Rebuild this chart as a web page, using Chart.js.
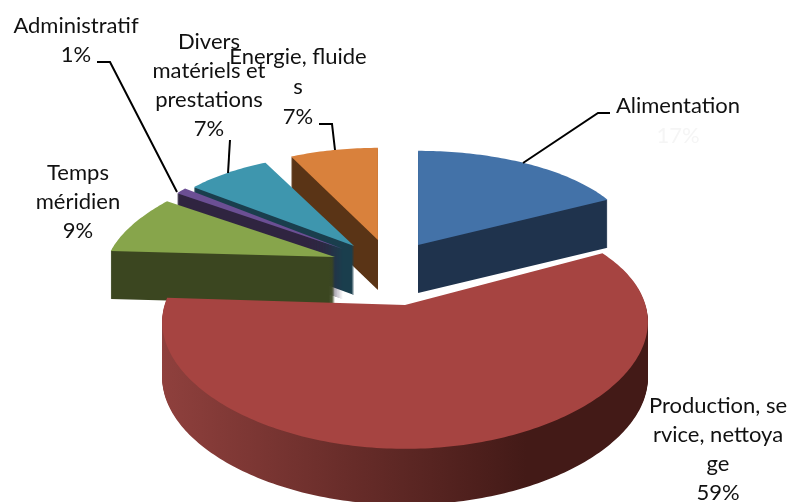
<!DOCTYPE html>
<html>
<head>
<meta charset="utf-8">
<style>
  html, body { margin: 0; padding: 0; background: #fff; }
  canvas { display: block; filter: blur(0.4px); }
</style>
<script src="https://cdn.jsdelivr.net/npm/chart.js@4/dist/chart.umd.min.js"></script>
</head>
<body>
<canvas id="cost_pie" width="790" height="502"></canvas>
<script>
const categories = ['Alimentation', 'Production, service, nettoyage', 'Temps méridien', 'Administratif', 'Divers matériels et prestations', 'Energie, fluides']
const values = [17, 59, 9, 1, 7, 7]
const wrappedLabels = [
  ['Alimentation'],
  ['Production, se', 'rvice, nettoya', 'ge'],
  ['Temps', 'méridien'],
  ['Administratif'],
  ['Divers', 'matériels et', 'prestations'],
  ['Energie, fluide', 's']
]

const topColors = ['#4372a8', '#a64441', '#87a54b', '#6b4f94', '#3e96ae', '#d9813c']
const wallColors = [
  ['#1f334d', '#1f334d'],
  ['#8f403d', '#431a17'],
  ['#3b4620', '#3b4620'],
  ['#2f2440', '#2f2440'],
  ['#1a3e4d', '#1a3e4d'],
  ['#5a3416', '#5a3416']
]

// each slice is pulled out and squashed on its own, all as fractions of the pie radius
const sliceViews = [
  { dx: 0.092, dy: -0.024, rx: 0.861, ry: 0.375, px: 0, py: 0, depth: 0.191 },
  { dx: 0.04, dy: 0.215, rx: 0.958, ry: 0.466, px: 0.14, py: 0.187, depth: 0.223 },
  { dx: -0.239, dy: 0.024, rx: 0.904, ry: 0.378, px: 0.158, py: 0, depth: 0.191 },
  { dx: -0.207, dy: -0.008, rx: 0.817, ry: 0.378, px: 0, py: 0, depth: 0.199 },
  { dx: -0.163, dy: -0.02, rx: 0.829, ry: 0.367, px: 0, py: 0, depth: 0.195 },
  { dx: -0.068, dy: -0.044, rx: 0.813, ry: 0.367, px: 0, py: 0, depth: 0.199 }
]
const drawOrder = [5, 4, 3, 2, 0, 1]

const labelBlocks = [
  { x: 678, y: 113, lead: 30, pctColor: '#f5f5f5' },
  { x: 718, y: 413, lead: 29 },
  { x: 78, y: 180, lead: 29 },
  { x: 76, y: 33, lead: 29 },
  { x: 209, y: 49, lead: 29 },
  { x: 298, y: 64, lead: 30 }
]
const leaders = [
  [[610, 113], [598, 113], [523, 163]],
  [[97, 62], [110, 62], [177, 192]],
  [[230, 140], [228, 173]],
  [[319, 124], [332, 124], [335, 150]]
]

function sliceOutline(arc, view) {
  const R = arc.outerRadius
  const cx = arc.x + view.dx * R
  const cy = arc.y + view.dy * R
  const pts = [[cx, cy]]
  const steps = Math.max(2, Math.ceil((arc.endAngle - arc.startAngle) / (Math.PI / 180)))
  for (let i = 0; i <= steps; i++) {
    const a = arc.startAngle + (arc.endAngle - arc.startAngle) * i / steps
    const X = Math.cos(a)
    const Y = Math.sin(a)
    pts.push([cx + view.rx * R * X / (1 - view.px * Y), cy + view.ry * R * Y / (1 - view.py * Y)])
  }
  return pts
}

function fillOutline(ctx, pts, shift, fill) {
  ctx.beginPath()
  pts.forEach((p, i) => {
    if (i === 0) ctx.moveTo(p[0], p[1] + shift)
    else ctx.lineTo(p[0], p[1] + shift)
  })
  ctx.closePath()
  ctx.fillStyle = fill
  ctx.fill()
}

const slicedPie = {
  id: 'slicedPie',
  beforeDatasetsDraw(chart) {
    const ctx = chart.ctx
    const arcs = chart.getDatasetMeta(0).data
    drawOrder.forEach(i => {
      const arc = arcs[i]
      const view = sliceViews[i]
      const pts = sliceOutline(arc, view)
      const xs = pts.map(p => p[0])
      const wall = ctx.createLinearGradient(Math.min(...xs), 0, Math.max(...xs), 0)
      wall.addColorStop(0, wallColors[i][0])
      wall.addColorStop(0.75, wallColors[i][1])
      wall.addColorStop(1, wallColors[i][1])
      const depth = Math.round(view.depth * arc.outerRadius)
      for (let d = depth; d > 0; d--) fillOutline(ctx, pts, d, wall)
      fillOutline(ctx, pts, 0, arc.options.backgroundColor)
    })
    return false
  },
  afterDraw(chart) {
    const ctx = chart.ctx
    ctx.save()
    ctx.strokeStyle = '#000'
    ctx.lineWidth = 2
    leaders.forEach(line => {
      ctx.beginPath()
      line.forEach((p, i) => i === 0 ? ctx.moveTo(p[0], p[1]) : ctx.lineTo(p[0], p[1]))
      ctx.stroke()
    })
    ctx.font = '22px Lato'
    ctx.textAlign = 'center'
    ctx.textBaseline = 'alphabetic'
    labelBlocks.forEach((b, i) => {
      ctx.fillStyle = '#111'
      wrappedLabels[i].forEach((t, n) => ctx.fillText(t, b.x, b.y + n * b.lead))
      ctx.fillStyle = b.pctColor || '#111'
      ctx.fillText(values[i] + '%', b.x, b.y + wrappedLabels[i].length * b.lead)
    })
    ctx.restore()
  }
}

new Chart(document.getElementById('cost_pie'), {
  type: 'pie',
  data: {
    labels: categories,
    datasets: [{
      data: values,
      backgroundColor: topColors,
      borderWidth: 0,
      hoverOffset: 0
    }]
  },
  options: {
    responsive: false,
    animation: false,
    events: [],
    plugins: {
      legend: { display: false },
      tooltip: { enabled: false }
    }
  },
  plugins: [slicedPie]
})
</script>
</body>
</html>
